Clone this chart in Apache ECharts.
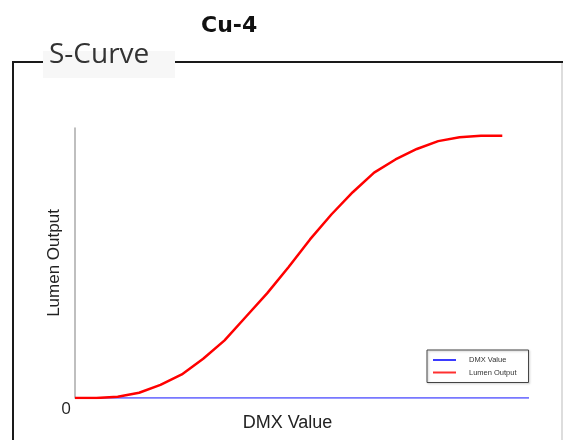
<!DOCTYPE html>
<html>
<head>
<meta charset="utf-8">
<script src="https://cdn.jsdelivr.net/npm/echarts@6/dist/echarts.min.js"></script>
<style>
  html, body { margin: 0; padding: 0; background: #fff; }
  #chart { width: 563px; height: 440px; }
</style>
</head>
<body>
<div id="chart"></div>
<script>
// DMX steps where the lumen curve was sampled
const dmxSteps = [0, 12, 24, 36, 48, 60, 72, 84, 96, 108, 120, 132, 144, 156, 168, 180, 192, 204, 216, 228, 240];
// lumen output, % of max
const lumenOutput = [0, 0, 0.5, 2, 5, 9, 15, 22, 31, 40, 50, 60.5, 70, 78.5, 86, 91, 95, 98, 99.5, 100, 100];
// DMX Value reference line (flat along the bottom)
const dmxRange = [0, 255];
const dmxLine = [0, 0];
const yTicks = ["0"];

const chart = echarts.init(document.getElementById("chart"));

chart.setOption({
  animation: false,
  textStyle: { fontFamily: "Liberation Sans, Arial, sans-serif" },
  title: {
    text: "Cu-4",
    left: 196,
    top: 10,
    textStyle: { fontFamily: "DejaVu Sans", fontWeight: "bold", fontSize: 22, color: "#111" },
  },
  grid: { left: 75, right: 34, top: 128, bottom: 42 },
  legend: {
    orient: "vertical",
    left: 427,
    top: 350,
    padding: [6, 12, 6, 6],
    itemGap: 4.5,
    itemWidth: 23,
    itemHeight: 2,
    icon: "rect",
    borderColor: "#444",
    borderWidth: 1,
    shadowColor: "rgba(0,0,0,0.25)",
    shadowBlur: 2,
    shadowOffsetX: 1,
    shadowOffsetY: 1,
    textStyle: { fontSize: 7.5, color: "#333", padding: [0, 0, 0, 8] },
    data: ["DMX Value", "Lumen Output"],
  },
  xAxis: {
    type: "value",
    min: 0,
    max: 255,
    name: "DMX Value",
    nameLocation: "middle",
    nameGap: 16,
    nameMoveOverlap: false,
    nameTextStyle: { fontSize: 18, color: "#222", padding: [0, 29, 0, 0] },
    axisLine: { show: false },
    axisTick: { show: false },
    axisLabel: { show: false },
    splitLine: { show: false },
  },
  yAxis: {
    type: "value",
    min: 0,
    max: 103,
    interval: 103,
    name: "Lumen Output",
    nameLocation: "middle",
    nameRotate: 90,
    nameGap: 12,
    nameMoveOverlap: false,
    nameTextStyle: { fontSize: 17, color: "#222" },
    axisLine: { show: true, lineStyle: { color: "#aaa", width: 1.5 } },
    axisTick: { show: false },
    axisLabel: {
      margin: 4,
      fontSize: 17,
      color: "#222",
      fontFamily: "Open Sans",
      verticalAlign: "top",
      padding: [3, 0, 0, 0],
      formatter: (v) => (v === 0 ? yTicks[0] : ""),
    },
    splitLine: { show: false },
  },
  series: [
    {
      name: "DMX Value",
      type: "line",
      data: dmxRange.map((x, i) => [x, dmxLine[i]]),
      showSymbol: false,
      lineStyle: { color: "#4b4bff", width: 1.5 },
      itemStyle: { color: "#3b3bff" },
    },
    {
      name: "Lumen Output",
      type: "line",
      data: dmxSteps.map((x, i) => [x, lumenOutput[i]]),
      showSymbol: false,
      lineStyle: { color: "#ff0000", width: 2.5 },
      itemStyle: { color: "#ff3030" },
    },
  ],
  graphic: [
    // outer frame
    { type: "line", shape: { x1: 13, y1: 62, x2: 13, y2: 440 }, style: { stroke: "#1a1a1a", lineWidth: 2 } },
    { type: "line", shape: { x1: 12, y1: 62, x2: 43, y2: 62 }, style: { stroke: "#1a1a1a", lineWidth: 2 } },
    { type: "line", shape: { x1: 175, y1: 62, x2: 563, y2: 62 }, style: { stroke: "#1a1a1a", lineWidth: 2 } },
    { type: "line", shape: { x1: 562, y1: 63, x2: 562, y2: 440 }, style: { stroke: "#bbb", lineWidth: 1 } },
    // label box
    { type: "rect", shape: { x: 43, y: 51, width: 132, height: 27 }, style: { fill: "#f7f7f7" } },
    {
      type: "text",
      left: 49,
      top: 41,
      style: { text: "S-Curve", font: "28px 'Open Sans'", fill: "#333" },
    },
  ],
});
</script>
</body>
</html>
